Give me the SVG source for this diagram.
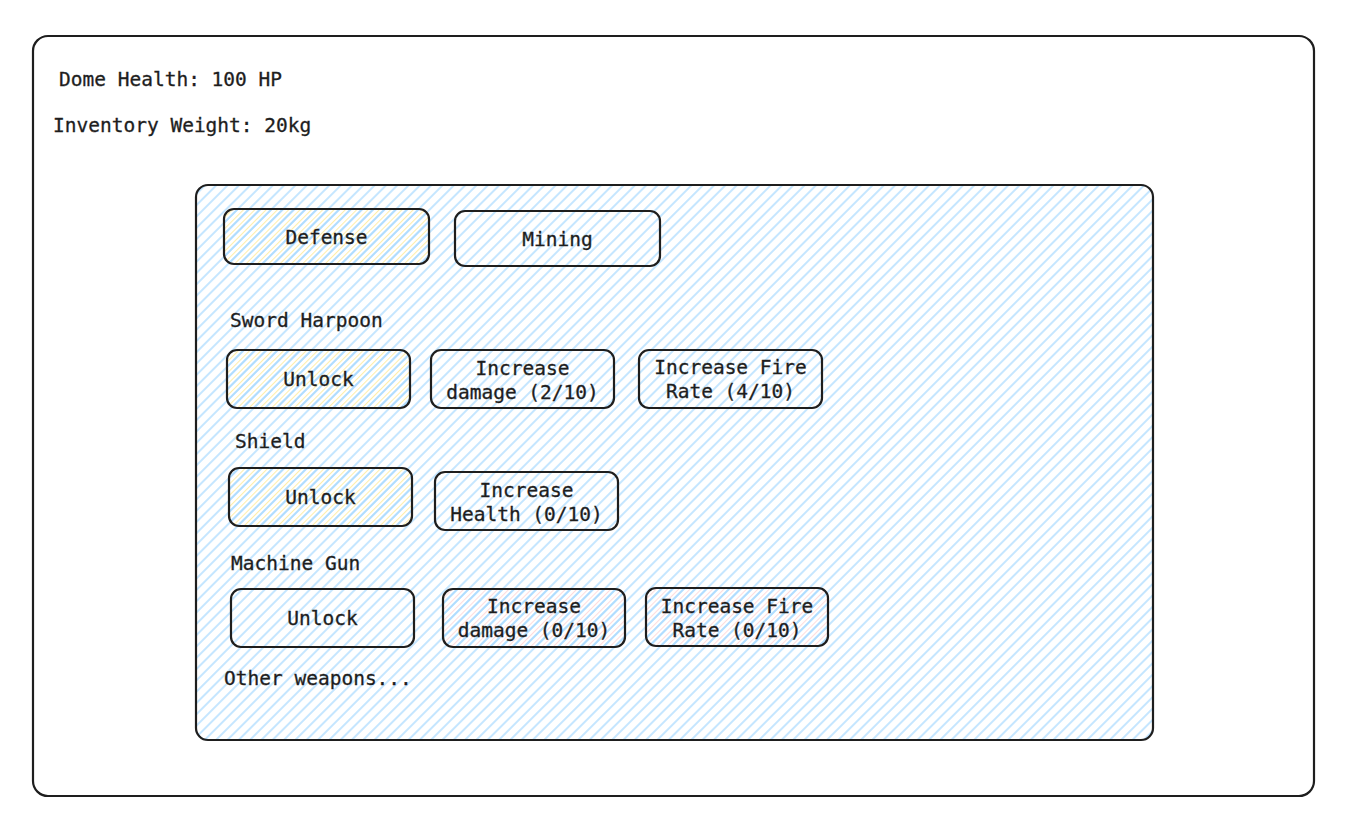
<svg xmlns="http://www.w3.org/2000/svg" width="1356" height="826" viewBox="0 0 1356 826">
<defs>
<pattern id="hb" width="8" height="8" patternUnits="userSpaceOnUse" patternTransform="rotate(-45)">
<line x1="0" y1="4" x2="8" y2="4" stroke="#a5d8ff" stroke-width="1.3"/>
</pattern>
<pattern id="hy" width="8" height="8" patternUnits="userSpaceOnUse" patternTransform="rotate(-45)">
<line x1="0" y1="4" x2="8" y2="4" stroke="#a5d8ff" stroke-width="1.3"/>
<line x1="0" y1="0" x2="8" y2="0" stroke="#ffe57a" stroke-width="1.3"/>
</pattern>
<pattern id="hr" width="8" height="8" patternUnits="userSpaceOnUse" patternTransform="rotate(-45)">
<line x1="0" y1="4" x2="8" y2="4" stroke="#a5d8ff" stroke-width="1.3"/>
<line x1="0" y1="0" x2="8" y2="0" stroke="#ffc9c9" stroke-width="1.3"/>
</pattern>
</defs>
<style>
text{font-family:"DejaVu Sans Mono","Liberation Mono",monospace;font-size:19.5px;fill:#1e1e1e;font-weight:500;stroke:#1e1e1e;stroke-width:0.3}
.c{text-anchor:middle}
.b{fill:none;stroke:#1e1e1e;stroke-width:2.2}
.y{fill:url(#hy);stroke:#1e1e1e;stroke-width:2.2}
.r{fill:url(#hr);stroke:#1e1e1e;stroke-width:2.2}
</style>
<rect width="1356" height="826" fill="#ffffff"/>
<g id="outer">
<rect class="b" x="33" y="36" width="1281" height="760" rx="15"/>
<text x="59" y="86">Dome Health: 100 HP</text>
<text x="53" y="132">Inventory Weight: 20kg</text>
</g>
<g id="panel">
<rect x="196" y="185" width="957" height="555" rx="12" fill="url(#hb)" stroke="#1e1e1e" stroke-width="2.2"/>
<text x="230" y="327">Sword Harpoon</text>
<text x="235" y="448">Shield</text>
<text x="231" y="570">Machine Gun</text>
<text x="224" y="685">Other weapons...</text>
</g>
<g id="defense"><rect class="y" x="224" y="209" width="205" height="55" rx="10"/><text class="c" x="326.5" y="244">Defense</text></g>
<g id="mining"><rect class="b" x="455" y="211" width="205" height="55" rx="10"/><text class="c" x="557.5" y="246">Mining</text></g>
<g id="sword-unlock"><rect class="y" x="227" y="350" width="183" height="58" rx="10"/><text class="c" x="318.5" y="386">Unlock</text></g>
<g id="sword-damage"><rect class="b" x="431" y="350" width="183" height="58" rx="10"/><text class="c" x="522.5" y="375">Increase</text><text class="c" x="522.5" y="399">damage (2/10)</text></g>
<g id="sword-fire"><rect class="b" x="639" y="350" width="183" height="58" rx="10"/><text class="c" x="730.5" y="374">Increase Fire</text><text class="c" x="730.5" y="398">Rate (4/10)</text></g>
<g id="shield-unlock"><rect class="y" x="229" y="468" width="183" height="58" rx="10"/><text class="c" x="320.5" y="504">Unlock</text></g>
<g id="shield-health"><rect class="b" x="435" y="472" width="183" height="58" rx="10"/><text class="c" x="526.5" y="497">Increase</text><text class="c" x="526.5" y="521">Health (0/10)</text></g>
<g id="gun-unlock"><rect class="b" x="231" y="589" width="183" height="58" rx="10"/><text class="c" x="322.5" y="625">Unlock</text></g>
<g id="gun-damage"><rect class="r" x="443" y="589" width="182" height="58" rx="10"/><text class="c" x="534" y="613">Increase</text><text class="c" x="534" y="637">damage (0/10)</text></g>
<g id="gun-fire"><rect class="r" x="646" y="588" width="182" height="58" rx="10"/><text class="c" x="737" y="613">Increase Fire</text><text class="c" x="737" y="637">Rate (0/10)</text></g>
<g id="connectors"></g>
</svg>
